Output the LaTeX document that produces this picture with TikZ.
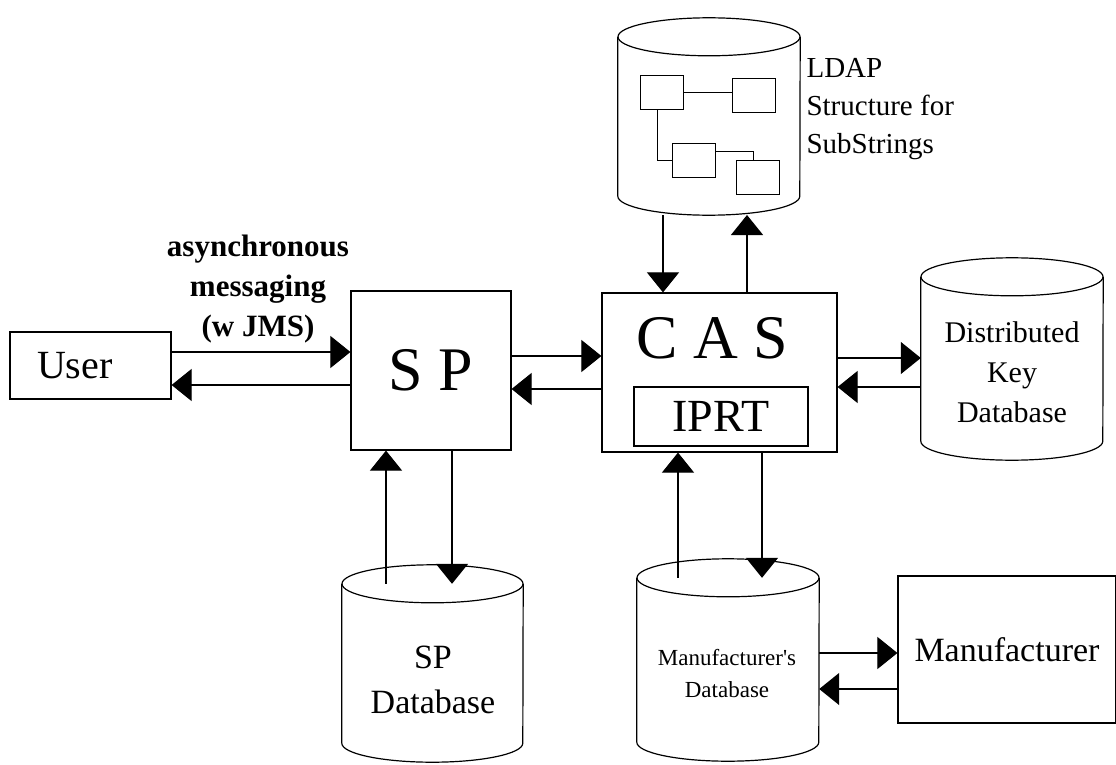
\documentclass[tikz,border=0pt]{standalone}
\usepackage{fontspec}
\setmainfont{Liberation Serif}
\usetikzlibrary{arrows.meta}
\newcommand{\fs}[2]{\fontsize{#1}{#2}\selectfont}
\newcommand{\dbase}[5]{\node[inner sep=0pt, minimum width={2*#5*1pt}, minimum height={(#4-#3)*1pt}] (#1) at (#2,{(#3+#4)/2}) {};\draw[line width=1.2pt] (#1.north west) -- (#1.south west) arc[start angle=180, end angle=360, x radius=#5pt, y radius=19pt] -- (#1.north east);\draw[line width=1.2pt] (#1.north) ellipse[x radius=#5pt, y radius=19pt];\coordinate (#1base) at (#2,{#4+19});}

\begin{document}
\begin{tikzpicture}[x=1pt,y=-1pt,
	box/.style={draw, line width=1.2pt, inner sep=0pt},
	leaf/.style={draw, line width=1pt, minimum width=43pt, minimum height=34pt, inner sep=0pt},
	flow/.style={-{Triangle[length=20pt,width=32pt]}, line width=1.1pt}]
	\useasboundingbox (0,0) rectangle (1116,765);
	\node[box, minimum width=161pt, minimum height=67pt, text width=107pt, inner xsep=27pt, align=left, font=\fs{40}{48}] (user) at (90.5,365.5) {User};
	\node[box, minimum width=160pt, minimum height=159pt, font=\fs{62}{70}] (sp) at (431,370.5) {S P};
	\node[box, minimum width=235pt, minimum height=159pt] (cas) at (719.5,372.5) {};
	\node[font=\fs{62}{70}] (castxt) at (712,338) {C A S};
	\node[box, minimum width=174pt, minimum height=59pt, font=\fs{46}{52}] (iprt) at (721,416.5) {IPRT};
	\node[box, minimum width=218pt, minimum height=147pt, font=\fs{34}{40}] (manu) at (1007,649.5) {Manufacturer};
	\dbase{ldap}{709}{37}{196}{91}
	\dbase{dkd}{1012}{277}{441}{91}
	\dbase{spdb}{432.5}{584}{743}{90.5}
	\dbase{mdb}{728}{578}{742}{91}
	\node[align=left, anchor=west, font=\fs{29}{38}] (ldaptxt) at (803,109) {LDAP\\Structure for\\SubStrings};
	\node[align=center, font=\fs{30}{40}] (dkdtxt) at (1012,372) {Distributed\\Key\\Database};
	\node[align=center, font=\fs{34}{44.5}] (spdbtxt) at (433,680) {SP\\Database};
	\node[align=center, font=\fs{23}{32}] (mdbtxt) at (727,673.5) {Manufacturer\textquotesingle s\\Database};
	\node[align=center, font=\fs{31}{40}\bfseries] (msg) at (258,289) {asynchronous\\messaging\\(w JMS)};
	\node[leaf] (t1) at (661.5,92.5) {};
	\node[leaf] (t2) at (753.5,95.5) {};
	\node[leaf] (t3) at (693.5,160.5) {};
	\node[leaf] (t4) at (757.5,177) {};
	\draw[line width=1pt] (t1.east) -- (t1.east -| t2.west);
	\draw[line width=1pt] ([xshift=-4.5pt]t1.south) |- (t3.west);
	\draw[line width=1pt] ([yshift=9.5pt]t3.east) -| ([xshift=-4.5pt]t4.north);
	\draw[flow] (user.east |- 0,352) -- (sp.west |- 0,352);
	\draw[flow] (sp.west |- 0,385) -- (user.east |- 0,385);
	\draw[flow] (sp.east |- 0,356) -- (cas.west |- 0,356);
	\draw[flow] (cas.west |- 0,389) -- (sp.east |- 0,389);
	\draw[flow] (cas.east |- 0,358) -- (dkd.west |- 0,358);
	\draw[flow] (dkd.west |- 0,387) -- (cas.east |- 0,387);
	\draw[flow] (ldapbase -| 663,0) -- (cas.north -| 663,0);
	\draw[flow] (cas.north -| 747,0) -- (ldapbase -| 747,0);
	\draw[flow] (spdb.north -| 386,0) -- (sp.south -| 386,0);
	\draw[flow] (sp.south -| 452,0) -- (spdb.north -| 452,0);
	\draw[flow] (mdb.north -| 678,0) -- (cas.south -| 678,0);
	\draw[flow] (cas.south -| 762,0) -- (mdb.north -| 762,0);
	\draw[flow] (mdb.east |- 0,653) -- (manu.west |- 0,653);
	\draw[flow] (manu.west |- 0,689) -- (mdb.east |- 0,689);
\end{tikzpicture}
\end{document}
